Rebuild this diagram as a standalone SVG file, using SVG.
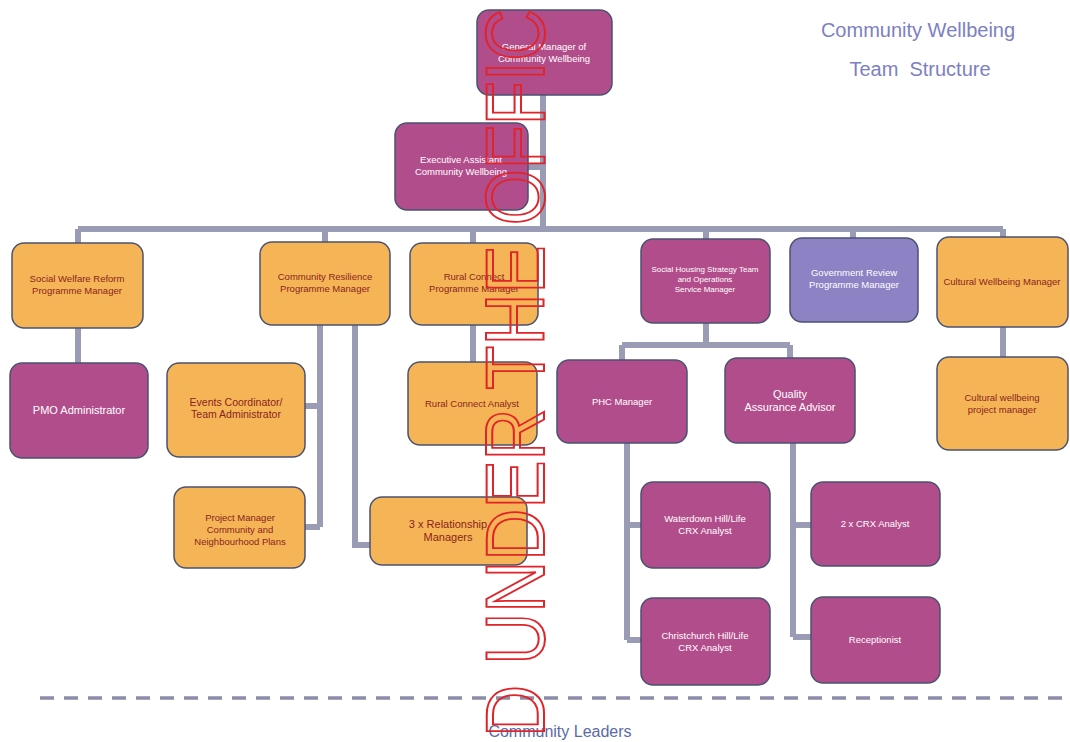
<svg xmlns="http://www.w3.org/2000/svg" width="1070" height="742" viewBox="0 0 1070 742">
<style>
.n rect{stroke:#4a5270;stroke-width:1.5}
.m rect{fill:#b24d8c}
.o rect{fill:#f5b556}
.p rect{fill:#8d82c3}
.m text,.p text{fill:#ffffff}
.o text{fill:#8a1f1f}
text{font-family:"Liberation Sans",Arial,sans-serif;font-size:9.5px;text-anchor:middle}
.c path{fill:none;stroke:#9a9cb6;stroke-width:6}
.t{fill:#7d80c2;font-size:20px}
.s8{font-size:8px}
.s11{font-size:11px}
.s105{font-size:10.5px}
</style>
<rect width="1070" height="742" fill="#ffffff"/>
<g class="c" id="connectors">
<path d="M543 95 V229 M528 167 H543"/>
<path d="M78 229 H1003 M78 229 V243 M325 229 V242 M473 229 V243 M706 229 V239 M853 229 V238 M1003 229 V237"/>
<path d="M78 328 V363"/>
<path d="M320 325 V527 M305 406 H320 M305 527 H320"/>
<path d="M355 325 V545 H370"/>
<path d="M473 325 V362"/>
<path d="M706 323 V345 M622 345 H790 M622 345 V360 M790 345 V358"/>
<path d="M627 443 V640 M627 525 H641 M627 640 H641"/>
<path d="M793 443 V637 M793 525 H811 M793 637 H811"/>
<path d="M1003 327 V357"/>
</g>
<g id="gm" class="n m"><rect x="477" y="10" width="135" height="85" rx="12"/><text x="544" y="50">General Manager of</text><text x="544" y="62">Community Wellbeing</text></g>
<g id="exec" class="n m"><rect x="395" y="123" width="133" height="87" rx="12"/><text x="461" y="163">Executive Assistant</text><text x="461" y="175">Community Wellbeing</text></g>
<g id="b1" class="n o"><rect x="12" y="243" width="131" height="85" rx="12"/><text x="77" y="282">Social Welfare Reform</text><text x="77" y="294">Programme Manager</text></g>
<g id="b2" class="n o"><rect x="260" y="242" width="130" height="83" rx="12"/><text x="325" y="280">Community Resilience</text><text x="325" y="292">Programme Manager</text></g>
<g id="b3" class="n o"><rect x="410" y="243" width="128" height="82" rx="12"/><text x="474" y="280">Rural Connect</text><text x="474" y="292">Programme Manager</text></g>
<g id="b4" class="n m"><rect x="641" y="239" width="129" height="84" rx="12"/><text class="s8" x="705" y="272">Social Housing Strategy Team</text><text class="s8" x="705" y="282">and Operations</text><text class="s8" x="705" y="292">Service Manager</text></g>
<g id="b5" class="n p"><rect x="790" y="238" width="128" height="84" rx="12"/><text x="854" y="276">Government Review</text><text x="854" y="288">Programme Manager</text></g>
<g id="b6" class="n o"><rect x="937" y="237" width="131" height="90" rx="12"/><text x="1002" y="285">Cultural Wellbeing Manager</text></g>
<g id="pmo" class="n m"><rect x="10" y="363" width="138" height="95" rx="12"/><text class="s11" x="79" y="414">PMO Administrator</text></g>
<g id="events" class="n o"><rect x="167" y="363" width="138" height="94" rx="12"/><text class="s105" x="236" y="406">Events Coordinator/</text><text class="s105" x="236" y="418">Team Administrator</text></g>
<g id="pm" class="n o"><rect x="174" y="487" width="131" height="81" rx="12"/><text x="240" y="521">Project Manager</text><text x="240" y="533">Community and</text><text x="240" y="545">Neighbourhood Plans</text></g>
<g id="rel" class="n o"><rect x="370" y="497" width="157" height="68" rx="12"/><text class="s11" x="448" y="528">3 x Relationship</text><text class="s11" x="448" y="541">Managers</text></g>
<g id="analyst" class="n o"><rect x="408" y="362" width="129" height="83" rx="12"/><text x="472" y="407">Rural Connect Analyst</text></g>
<g id="phc" class="n m"><rect x="557" y="360" width="130" height="83" rx="12"/><text x="622" y="405">PHC Manager</text></g>
<g id="qa" class="n m"><rect x="725" y="358" width="130" height="85" rx="12"/><text class="s11" x="790" y="398">Quality</text><text class="s11" x="790" y="411">Assurance Advisor</text></g>
<g id="cwpm" class="n o"><rect x="937" y="357" width="131" height="93" rx="12"/><text x="1002" y="401">Cultural wellbeing</text><text x="1002" y="413">project manager</text></g>
<g id="wat" class="n m"><rect x="641" y="482" width="129" height="86" rx="12"/><text x="705" y="522">Waterdown Hill/Life</text><text x="705" y="534">CRX Analyst</text></g>
<g id="chc" class="n m"><rect x="641" y="598" width="129" height="87" rx="12"/><text x="705" y="639">Christchurch Hill/Life</text><text x="705" y="651">CRX Analyst</text></g>
<g id="crx" class="n m"><rect x="811" y="482" width="129" height="84" rx="12"/><text x="875" y="527">2 x CRX Analyst</text></g>
<g id="rec" class="n m"><rect x="811" y="597" width="129" height="86" rx="12"/><text x="875" y="643">Receptionist</text></g>
<g id="title"><text class="t" x="918" y="37">Community Wellbeing</text><text class="t" x="920" y="76" xml:space="preserve">Team  Structure</text></g>
<path d="M40 698 H1070" stroke="#8a8ca8" stroke-width="3.5" stroke-dasharray="14 10" fill="none"/>
<text x="560" y="737" style="font-size:16px;fill:#5b6aa6">Community Leaders</text>
<text transform="translate(544,737) rotate(-90)" x="0" y="0" style="font-size:84px;text-anchor:start;fill:none;stroke:#e0242a;stroke-width:2" textLength="728" lengthAdjust="spacingAndGlyphs">D UNDER THE OFFIC</text>
</svg>
